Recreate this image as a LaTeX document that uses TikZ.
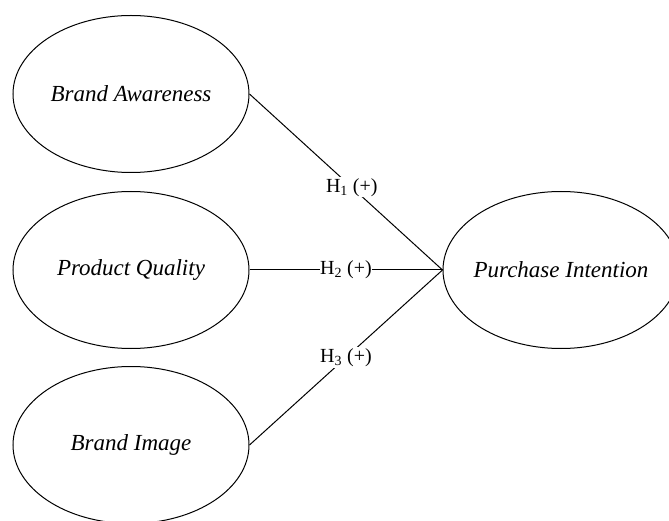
\documentclass[tikz,border=0pt]{standalone}
\usepackage{fontspec}
\setmainfont{Liberation Serif}
\usetikzlibrary{shapes.geometric}
\begin{document}
\begin{tikzpicture}[x=1pt,y=-1pt,
  construct/.style={draw,ellipse,line width=1pt,minimum width=236pt,minimum height=157pt,inner sep=0pt},
  ctext/.style={inner sep=0pt,font=\fontsize{23}{26}\selectfont\itshape},
  hyp/.style={fill=white,inner sep=1pt,font=\fontsize{20}{22}\selectfont},
  path/.style={line width=1pt}]
\useasboundingbox (0,0) rectangle (669,521);
\clip (0,0) rectangle (669,521);
\node[construct] (BA) at (131,94) {};
\node[construct] (PQ) at (131,270) {};
\node[construct] (BI) at (131,445) {};
\node[construct] (PI) at (561,270) {};
\node[ctext] (BAt) at (BA) {Brand Awareness};
\node[ctext] (PQt) at (PQ) {Product Quality};
\node[ctext] (BIt) at (BI) {Brand Image};
\node[ctext] (PIt) at (PI) {Purchase Intention};
\draw[path] (BA.east) -- node[hyp,pos=0.53] {H\textsubscript{1} (+)} (PI.west);
\draw[path] (PQ.east) -- node[hyp,inner sep=0pt,pos=0.5] {H\textsubscript{2} (+)} (PI.west);
\draw[path] (BI.east) -- node[hyp,pos=0.5] {H\textsubscript{3} (+)} (PI.west);
\end{tikzpicture}
\end{document}
